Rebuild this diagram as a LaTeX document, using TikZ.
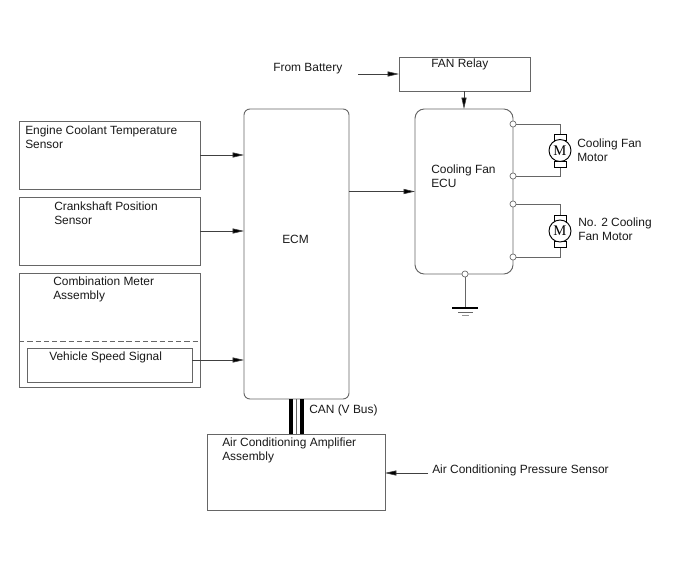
\documentclass[tikz,border=0pt]{standalone}
\usepackage{fontspec}
\setmainfont{Liberation Sans}
\newfontfamily\motorfont{Liberation Serif}
\usetikzlibrary{arrows.meta,calc}
\definecolor{ln}{HTML}{666666}
\tikzset{
  x=0.75pt,y=-0.75pt,
  box/.style={draw=ln,line width=0.7pt,inner sep=0pt,outer sep=0pt},
  rbox/.style={box,rounded corners=4.5pt},
  wire/.style={draw=ln,line width=0.7pt},
  arr/.style={draw=black!75,line width=0.45pt,-{Stealth[length=8.5pt,width=3.8pt,inset=0pt,fill=black]}},
  port/.style={circle,draw=ln,fill=white,line width=0.5pt,minimum size=4.6pt,inner sep=0pt,outer sep=0pt},
  motor/.style={circle,draw=black,fill=white,line width=0.7pt,minimum size=16.5pt,inner sep=0pt,outer sep=0pt},
  brush/.style={draw=black,fill=white,line width=0.6pt,minimum width=9pt,minimum height=4.6pt,inner sep=0pt,outer sep=0pt},
  lbl/.style={anchor=west,align=left,inner sep=0pt,font=\fontsize{8.95pt}{10.5pt}\selectfont,text=black!90},
}
\begin{document}
\begin{tikzpicture}
\useasboundingbox[fill=white] (0,0) rectangle (688,560);
% boxes
\node[box,minimum width=135.75pt,minimum height=51pt] (ect) at (109.5,155) {};
\node[box,minimum width=135.75pt,minimum height=51pt] (crank) at (109.5,231) {};
\node[box,minimum width=135.75pt,minimum height=85.5pt] (meter) at (109.5,330) {};
\node[box,minimum width=123.75pt,minimum height=25.5pt] (speed) at (109.5,365) {};
\node[rbox,minimum width=78.75pt,minimum height=217.5pt] (ecm) at (296.5,254) {};
\node[box,minimum width=98.25pt,minimum height=25.5pt] (relay) at (464.5,74) {};
\node[rbox,rounded corners=7pt,minimum width=73.5pt,minimum height=123.75pt] (ecu) at (464,191.5) {};
\node[box,minimum width=133.5pt,minimum height=57pt] (amp) at (296,472) {};
% dashed separator
\coordinate (dl) at (19,341.5);
\coordinate (dr) at (200,341.5);
\draw[wire,dash pattern=on 4pt off 2.2pt] (dl) -- (dr);
% ports
\node[port] (p1) at (513,124) {};
\node[port] (p2) at (513,176) {};
\node[port] (p3) at (513,204) {};
\node[port] (p4) at (513,257) {};
\node[port] (pg) at (465,274) {};
% motors
\coordinate (m1c) at (560,150.5);
\coordinate (m2c) at (560,231);
\draw[wire] (p1) -- (p1 -| m1c) -- (p2 -| m1c) -- (p2);
\draw[wire] (p3) -- (p3 -| m2c) -- (p4 -| m2c) -- (p4);
\node[brush] (b1) at (560,137) {};
\node[brush] (b2) at (560,164) {};
\node[brush] (b3) at (560,218) {};
\node[brush] (b4) at (560,244) {};
\node[motor,font=\motorfont\fontsize{11pt}{11pt}\selectfont] (m1) at (m1c) {M};
\node[motor,font=\motorfont\fontsize{11pt}{11pt}\selectfont] (m2) at (m2c) {M};
% ground
\coordinate (g1) at (465,308);
\coordinate (g2a) at (452,308); \coordinate (g2b) at (478,308);
\coordinate (g3a) at (458,312); \coordinate (g3b) at (473,312);
\coordinate (g4a) at (462,315.5); \coordinate (g4b) at (469,315.5);
\draw[wire] (pg) -- (g1);
\draw[black,line width=0.9pt] (g2a) -- (g2b);
\draw[ln,line width=0.6pt] (g3a) -- (g3b);
\draw[ln!70,line width=0.6pt] (g4a) -- (g4b);
% arrows
\coordinate (batt) at (358,74);
\coordinate (pres) at (428,473);
\draw[arr] (batt) -- (batt -| relay.west);
\draw[arr] (relay.south -| ecu.north) -- (ecu.north);
\draw[arr] (ect.east) -- (ect.east -| ecm.west);
\draw[arr] (crank.east) -- (crank.east -| ecm.west);
\coordinate (sp) at ($(speed.east)+(0,-5)$);
\draw[arr] (sp) -- (sp -| ecm.west);
\draw[arr] (ecm.east |- ecu.west) -- (ecu.west);
\draw[arr] (pres) -- (pres -| amp.east);
% CAN bus
\draw[black,line width=3pt] (291,399) -- (291,434);
\draw[ln,line width=0.6pt] (296,399) -- (296,434);
\draw[black,line width=3pt] (302,399) -- (302,434);
% labels
\node[lbl] (t1) at (25,137.5) {Engine Coolant Temperature\\Sensor};
\node[lbl] (t2) at (54,213.5) {Crankshaft Position\\Sensor};
\node[lbl] (t3) at (53,289.5) {Combination Meter\\Assembly};
\node[lbl] (t4) at (49,357.5) {Vehicle Speed Signal};
\node[lbl] (t5) at (282,239.5) {ECM};
\node[lbl] (t6) at (431,176.5) {Cooling Fan\\ECU};
\node[lbl] (t7) at (431,64.5) {FAN Relay};
\node[lbl] (t8) at (273,68.5) {From Battery};
\node[lbl] (t9) at (577,150.5) {Cooling Fan\\Motor};
\node[lbl] (t10) at (578,229.5) {No. 2 Cooling\\Fan Motor};
\node[lbl] (t11) at (309,410.5) {CAN (V Bus)};
\node[lbl] (t12) at (222,450.5) {Air Conditioning Amplifier\\Assembly};
\node[lbl] (t13) at (432,470.5) {Air Conditioning Pressure Sensor};
\end{tikzpicture}
\end{document}
